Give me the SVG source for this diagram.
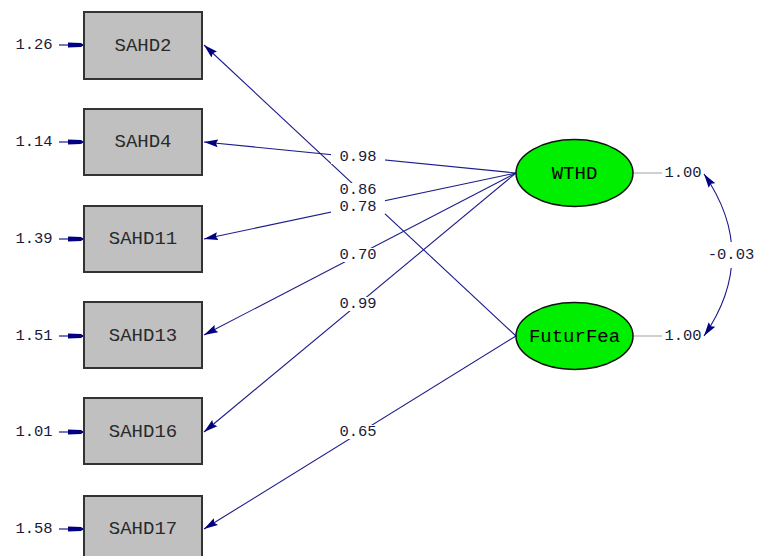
<svg xmlns="http://www.w3.org/2000/svg" width="758" height="556" viewBox="0 0 758 556">
<defs>
<style>
.box{fill:#c0c0c0;stroke:#333;stroke-width:2}
.lat{fill:#00ee00;stroke:#111;stroke-width:1.5}
.lbl{font-family:"Liberation Mono",monospace;font-size:19px;fill:#2a2a2a;text-anchor:middle;dominant-baseline:central}
.lat-lbl{font-family:"Liberation Mono",monospace;font-size:19px;fill:#000;text-anchor:middle;dominant-baseline:central}
.num{font-family:"Liberation Mono",monospace;font-size:15.5px;fill:#1a1a3a;text-anchor:middle;dominant-baseline:central}
.edge{stroke:#1c1c8a;stroke-width:1.1;fill:none}
.err{stroke:#1c1c8a;stroke-width:1.2;fill:none}
.gray{stroke:#c0c0c0;stroke-width:1.5}
.bg{fill:#fff}
</style>
<marker id="ah" markerUnits="userSpaceOnUse" markerWidth="15" markerHeight="10" refX="14" refY="5" orient="auto-start-reverse">
<path d="M0,1 L14,5 L0,9 L2,5 z" fill="#000080"/>
</marker>
<marker id="eh" markerUnits="userSpaceOnUse" markerWidth="17" markerHeight="7" refX="16" refY="3.5" orient="auto">
<path d="M0,1 L13,1.5 L16,3.5 L13,5.5 L0,6 z" fill="#000080"/>
</marker>
</defs>

<g id="connectors">
<path class="edge" d="M516,336 L204,45" marker-end="url(#ah)"/>
<path class="edge" d="M516,173 L204,142" marker-end="url(#ah)"/>
<path class="edge" d="M516,173 L204,239" marker-end="url(#ah)"/>
<path class="edge" d="M516,173 L204,335" marker-end="url(#ah)"/>
<path class="edge" d="M516,173 L204,432" marker-end="url(#ah)"/>
<path class="edge" d="M516,336 L204,529" marker-end="url(#ah)"/>
<path class="err" d="M59,45 L84,45" marker-end="url(#eh)"/>
<path class="err" d="M59,142 L84,142" marker-end="url(#eh)"/>
<path class="err" d="M59,239 L84,239" marker-end="url(#eh)"/>
<path class="err" d="M59,336 L84,336" marker-end="url(#eh)"/>
<path class="err" d="M59,432 L84,432" marker-end="url(#eh)"/>
<path class="err" d="M59,529 L84,529" marker-end="url(#eh)"/>
<line class="gray" x1="633" y1="173" x2="662" y2="173"/>
<line class="gray" x1="633" y1="336" x2="662" y2="336"/>
<path class="edge" d="M704,174 Q760,255 704,336" marker-start="url(#ah)" marker-end="url(#ah)" stroke-width="1.4"/>
<rect class="bg" x="331" y="150" width="54" height="14"/>
<text class="num" x="358" y="157">0.98</text>
<rect class="bg" x="331" y="183" width="54" height="18"/>
<text class="num" x="358" y="190">0.86</text>
<rect class="bg" x="331" y="200" width="54" height="14"/>
<text class="num" x="358" y="207">0.78</text>
<rect class="bg" x="331" y="248" width="54" height="14"/>
<text class="num" x="358" y="255">0.70</text>
<rect class="bg" x="331" y="297" width="54" height="14"/>
<text class="num" x="358" y="304">0.99</text>
<rect class="bg" x="331" y="425" width="54" height="14"/>
<text class="num" x="358" y="432">0.65</text>
<rect class="bg" x="704" y="242" width="54" height="26"/>
<text class="num" x="731" y="255">-0.03</text>
<text class="num" x="683" y="173">1.00</text>
<text class="num" x="683" y="336">1.00</text>
<text class="num" x="34" y="45">1.26</text>
<text class="num" x="34" y="142">1.14</text>
<text class="num" x="34" y="239">1.39</text>
<text class="num" x="34" y="336">1.51</text>
<text class="num" x="34" y="432">1.01</text>
<text class="num" x="34" y="529">1.58</text>
</g>

<g id="SAHD2"><rect class="box" x="84" y="12" width="118" height="67"/><text class="lbl" x="143" y="46">SAHD2</text></g>
<g id="SAHD4"><rect class="box" x="84" y="109" width="118" height="66"/><text class="lbl" x="143" y="142">SAHD4</text></g>
<g id="SAHD11"><rect class="box" x="84" y="206" width="118" height="66"/><text class="lbl" x="143" y="239">SAHD11</text></g>
<g id="SAHD13"><rect class="box" x="84" y="302" width="118" height="66"/><text class="lbl" x="143" y="336">SAHD13</text></g>
<g id="SAHD16"><rect class="box" x="84" y="398" width="118" height="66"/><text class="lbl" x="143" y="432">SAHD16</text></g>
<g id="SAHD17"><rect class="box" x="84" y="496" width="118" height="66"/><text class="lbl" x="143" y="529">SAHD17</text></g>
<g id="WTHD"><ellipse class="lat" cx="574.5" cy="173" rx="58.5" ry="33.5"/><text class="lat-lbl" x="574.5" y="174">WTHD</text></g>
<g id="FuturFea"><ellipse class="lat" cx="574.5" cy="336" rx="58.5" ry="33.5"/><text class="lat-lbl" x="574.5" y="337">FuturFea</text></g>
</svg>
